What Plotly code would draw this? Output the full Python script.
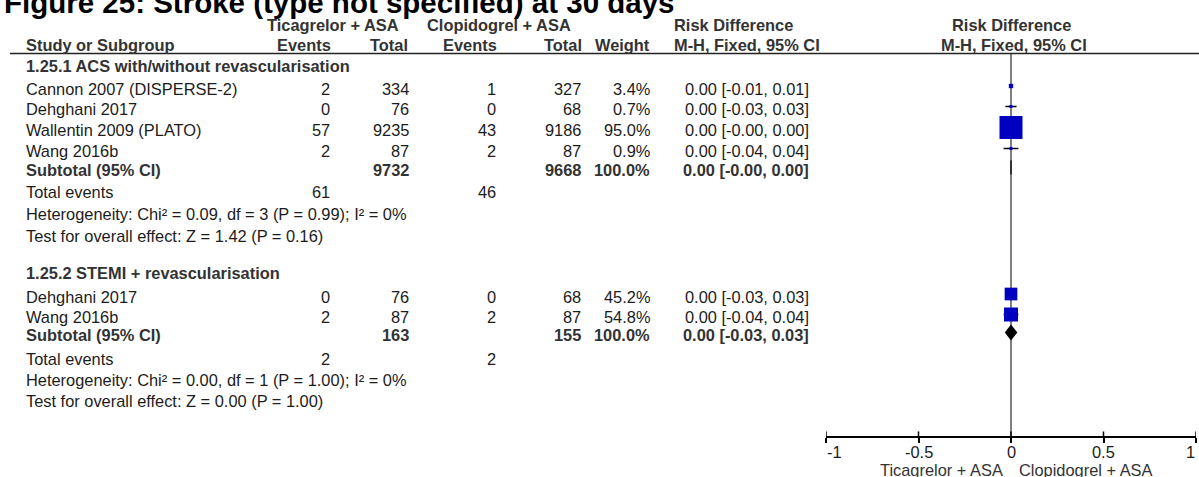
import plotly.graph_objects as go

# ---------------- data ----------------
title = "Figure 25: Stroke (type not specified) at 30 days"
arm_a = "Ticagrelor + ASA"
arm_b = "Clopidogrel + ASA"
group_names = ["1.25.1 ACS with/without revascularisation",
               "1.25.2 STEMI + revascularisation"]

# subgroup 1.25.1
studies_1 = ["Cannon 2007 (DISPERSE-2)", "Dehghani 2017", "Wallentin 2009 (PLATO)", "Wang 2016b"]
tica_events_1 = [2, 0, 57, 2]
tica_total_1 = [334, 76, 9235, 87]
clop_events_1 = [1, 0, 43, 2]
clop_total_1 = [327, 68, 9186, 87]
weight_1 = [3.4, 0.7, 95.0, 0.9]
rd_1 = [0.00, 0.00, 0.00, 0.00]
low_1 = [-0.01, -0.03, -0.00, -0.04]
high_1 = [0.01, 0.03, 0.00, 0.04]

# subgroup 1.25.2
studies_2 = ["Dehghani 2017", "Wang 2016b"]
tica_events_2 = [0, 2]
tica_total_2 = [76, 87]
clop_events_2 = [0, 2]
clop_total_2 = [68, 87]
weight_2 = [45.2, 54.8]
rd_2 = [0.00, 0.00]
low_2 = [-0.03, -0.04]
high_2 = [0.03, 0.04]

# subgroup summaries (1.25.1, 1.25.2)
sub_tica_total = [9732, 163]
sub_clop_total = [9668, 155]
sub_weight = [100.0, 100.0]
sub_rd = [0.00, 0.00]
sub_low = [-0.00, -0.03]
sub_high = [0.00, 0.03]
sub_tica_events = [61, 2]
sub_clop_events = [46, 2]
het_chi2 = [0.09, 0.00]
het_df = [3, 1]
het_p = [0.99, 1.00]
het_i2 = [0, 0]
effect_z = [1.42, 0.00]
effect_p = [0.16, 1.00]

tick_vals = [-1, -0.5, 0, 0.5, 1]
tick_text = ["-1", "-0.5", "0", "0.5", "1"]

# ---------------- layout constants ----------------
W, H = 1199, 477
FONT = "Liberation Sans, Arial, sans-serif"
FS = 16.4
TXT = "#1c1c1c"
HDR = "#333333"
BLUE = "#0000C0"

# column anchors (px)
X_NAME = 25
X_EV_A, X_TOT_A = 331, 410
X_EV_B, X_TOT_B = 497, 582
X_WEIGHT = 651
X_CI_R = 810
X_CI_HDR = 673

# row centres (px from top)
rows_group = [
    dict(head=66, studies=[88.5, 109, 130, 151], sub=170, tot=191.5, het=214, test=236),
    dict(head=272.5, studies=[296.5, 317], sub=335, tot=358.5, het=380, test=401),
]
MARK_OFF = 2.5          # marks sit slightly above text centre
size_scale = [2.36, 1.89]
AXIS_Y = 437

annotations = []


def txt(x_px, y, s, anchor="left", bold=False, size=FS, color=TXT):
    annotations.append(dict(
        xref="paper", yref="y", x=x_px / W, y=y,
        text=f"<b>{s}</b>" if bold else s,
        showarrow=False, xanchor=anchor, yanchor="middle", borderpad=0,
        font=dict(family=FONT, size=size, color=color)))


def ci_str(e, lo, hi):
    return f"{e:.2f} [{lo:.2f}, {hi:.2f}]"


# title
txt(3, 2.5, title, bold=True, size=29.5, color="#000000")

# column headers
txt(332.5, 25, arm_a, "center", True, color=HDR)
txt(499, 25, arm_b, "center", True, color=HDR)
txt(X_CI_HDR, 25, "Risk Difference", "left", True, color=HDR)
txt(1011, 25, "Risk Difference", "center", True, color=HDR)
txt(X_NAME, 45, "Study or Subgroup", "left", True, color=HDR)
txt(332, 45, "Events", "right", True, color=HDR)
txt(409, 45, "Total", "right", True, color=HDR)
txt(498, 45, "Events", "right", True, color=HDR)
txt(583, 45, "Total", "right", True, color=HDR)
txt(651, 45, "Weight", "right", True, color=HDR)
txt(X_CI_HDR, 45, "M-H, Fixed, 95% CI", "left", True, color=HDR)
txt(1014, 45, "M-H, Fixed, 95% CI", "center", True, color=HDR)

fig = go.Figure()

groups = [
    (studies_1, tica_events_1, tica_total_1, clop_events_1, clop_total_1, weight_1, rd_1, low_1, high_1),
    (studies_2, tica_events_2, tica_total_2, clop_events_2, clop_total_2, weight_2, rd_2, low_2, high_2),
]

for g, (names, ea, ta, eb, tb, w, rd, lo, hi) in enumerate(groups):
    r = rows_group[g]
    txt(X_NAME, r["head"], group_names[g], bold=True, color=HDR)
    for i, name in enumerate(names):
        y = r["studies"][i]
        txt(X_NAME, y, name)
        txt(X_EV_A, y, str(ea[i]), "right")
        txt(X_TOT_A, y, str(ta[i]), "right")
        txt(X_EV_B, y, str(eb[i]), "right")
        txt(X_TOT_B, y, str(tb[i]), "right")
        txt(X_WEIGHT, y, f"{w[i]:.1f}%", "right")
        txt(X_CI_R, y, ci_str(rd[i], lo[i], hi[i]), "right")

    # study squares with CI whiskers
    sizes = [max(3.0, size_scale[g] * wi ** 0.5) for wi in w]
    fig.add_trace(go.Scatter(
        x=rd, y=[y - MARK_OFF for y in r["studies"]], mode="markers",
        marker=dict(symbol="square", size=sizes, color=BLUE, opacity=1, line=dict(width=0)),
        error_x=dict(type="data", symmetric=False,
                     array=[h - e for h, e in zip(hi, rd)],
                     arrayminus=[e - l for e, l in zip(rd, lo)],
                     width=0, thickness=1.5, color="#000000"),
        hoverinfo="skip", showlegend=False))

    # subtotal row
    ys = r["sub"]
    txt(X_NAME, ys, "Subtotal (95% CI)", bold=True, color=HDR)
    txt(X_TOT_A, ys, str(sub_tica_total[g]), "right", True, color=HDR)
    txt(X_TOT_B, ys, str(sub_clop_total[g]), "right", True, color=HDR)
    txt(X_WEIGHT, ys, f"{sub_weight[g]:.1f}%", "right", True, color=HDR)
    txt(X_CI_R, ys, ci_str(sub_rd[g], sub_low[g], sub_high[g]), "right", True, color=HDR)

    # pooled diamond
    yd = ys - MARK_OFF
    half_h = 7
    fig.add_trace(go.Scatter(
        x=[sub_low[g], sub_rd[g], sub_high[g], sub_rd[g], sub_low[g]],
        y=[yd, yd - half_h, yd, yd + half_h, yd],
        mode="lines", fill="toself", fillcolor="#000000",
        line=dict(color="#000000", width=1.2),
        hoverinfo="skip", showlegend=False))

    txt(X_NAME, r["tot"], "Total events")
    txt(X_EV_A, r["tot"], str(sub_tica_events[g]), "right")
    txt(X_EV_B, r["tot"], str(sub_clop_events[g]), "right")
    txt(X_NAME, r["het"],
        f"Heterogeneity: Chi² = {het_chi2[g]:.2f}, df = {het_df[g]} "
        f"(P = {het_p[g]:.2f}); I² = {het_i2[g]}%")
    txt(X_NAME, r["test"],
        f"Test for overall effect: Z = {effect_z[g]:.2f} (P = {effect_p[g]:.2f})")

# axis tick labels and direction captions
for i, (v, t) in enumerate(zip(tick_vals, tick_text)):
    anchor = "left" if i == 0 else ("right" if i == len(tick_vals) - 1 else "center")
    annotations.append(dict(xref="x", yref="y", x=v, y=452, text=t, showarrow=False,
                            xanchor=anchor, yanchor="middle", borderpad=0,
                            font=dict(family=FONT, size=FS, color=TXT)))
txt(1004, 469.5, arm_a, "right", color=HDR)
txt(1018, 469.5, arm_b, "left", color=HDR)

shapes = [
    # header rule
    dict(type="line", xref="paper", yref="y", x0=10 / W, x1=1, y0=53.5, y1=53.5,
         line=dict(color="#222222", width=1.5)),
    # line of no effect
    dict(type="line", xref="x", yref="y", x0=0, x1=0, y0=54, y1=AXIS_Y,
         line=dict(color="#555555", width=1.5), layer="below"),
]
# upper half of the crossing tick marks
for v in tick_vals:
    shapes.append(dict(type="line", xref="x", yref="y", x0=v, x1=v, y0=AXIS_Y - 5.5, y1=AXIS_Y,
                       line=dict(color="#000000", width=1.5)))

fig.update_layout(
    width=W, height=H, autosize=False,
    margin=dict(l=0, r=0, t=0, b=0, pad=0),
    paper_bgcolor="white", plot_bgcolor="white",
    showlegend=False,
    xaxis=dict(domain=[826 / W, 1196 / W], range=[-1, 1], anchor="free",
               position=(H - AXIS_Y) / H, showline=True, linecolor="#000000", linewidth=1.5,
               ticks="outside", ticklen=5, tickwidth=1.5, tickcolor="#000000",
               tickvals=tick_vals, showticklabels=False, showgrid=False, zeroline=False,
               fixedrange=True),
    yaxis=dict(domain=[0, 1], range=[H, 0], visible=False, fixedrange=True),
    annotations=annotations,
    shapes=shapes,
)

fig.write_html("out.html", config={"displayModeBar": False})
